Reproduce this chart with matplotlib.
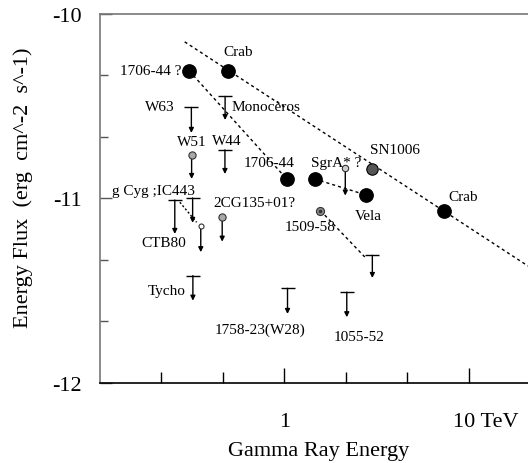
import numpy as np
import matplotlib
matplotlib.use("Agg")
import matplotlib.pyplot as plt
from matplotlib.ticker import FixedLocator, NullFormatter
from matplotlib.transforms import ScaledTranslation

plt.rcParams['font.family'] = ['Liberation Serif', 'DejaVu Serif']

# ---- detections (E in TeV, log10 of energy flux) ----
det_E = [0.305, 0.497, 1.03, 1.46, 2.78, 7.38]
det_F = [-10.309, -10.309, -10.895, -10.895, -10.982, -11.071]

sn1006_E, sn1006_F = 3.0, -10.842
psr1509_E, psr1509_F = 1.57, -11.067

# small circles with an arrow below (value, limit tip)
circ_names = ['W51', '2CG135+01?', 'SgrA* ?', 'CTB80']
circ_E = [0.314, 0.46, 2.14, 0.352]
circ_F = [-10.765, -11.099, -10.838, -11.151]
circ_tip = [-10.895, -11.235, -10.985, -11.292]

# upper limits: bar level and arrow tip
ul_names = ['W63', 'Monoceros', 'W44', 'gCyg', 'IC443', 'Tycho', '1758-23', '1055-52', '1509-58']
ul_E = [0.313, 0.477, 0.476, 0.2545, 0.318, 0.319, 1.04, 2.18, 3.0]
ul_F = [-10.507, -10.447, -10.737, -11.009, -10.998, -11.419, -11.488, -11.509, -11.309]
ul_tip = [-10.645, -10.575, -10.868, -11.193, -11.133, -11.555, -11.627, -11.645, -11.432]

# dashed spectra
crab_line_E = [0.288, 20.96]
crab_line_F = [-10.151, -11.367]
l1706_E = [0.305, 1.03]
l1706_F = [-10.309, -10.895]
vela_line_E = [1.46, 2.78]
vela_line_F = [-10.895, -10.982]
l1509_E = [1.57, 2.73]
l1509_F = [-11.067, -11.318]
cyg_line_E = [0.271, 0.334]
cyg_line_F = [-11.021, -11.130]

# labels: text, E, F, alignment
labels = [
    ('1706-44 ?', 0.278, -10.309, 'right'),
    ('Crab', 0.56, -10.206, 'center'),
    ('W63', 0.211, -10.504, 'center'),
    ('Monocèros', 0.519, -10.504, 'left'),
    ('W51', 0.314, -10.694, 'center'),
    ('W44', 0.486, -10.687, 'center'),
    ('1706-44', 0.829, -10.805, 'center'),
    ('SgrA* ?', 1.915, -10.803, 'center'),
    ('SN1006', 3.96, -10.736, 'center'),
    ('Vela', 2.87, -11.095, 'center'),
    ('Crab', 9.3, -10.992, 'center'),
    ('g Cyg ;IC443', 0.194, -10.958, 'center'),
    ('2CG135+01?', 0.692, -11.020, 'center'),
    ('CTB80', 0.222, -11.239, 'center'),
    ('1509-58', 1.375, -11.155, 'center'),
    ('Tycho', 0.292, -11.502, 'right'),
    ('1758-23(W28)', 0.736, -11.709, 'center'),
    ('1055-52', 2.54, -11.747, 'center'),
]

fig = plt.figure(figsize=(5.28, 4.64), dpi=100)
ax = fig.add_axes([100/528, 80.3/464, 428/528, 368.7/464])
ax.set_xscale('log')
ax.set_xlim(0.1, 20.96)
ax.set_ylim(-12, -10)

dash = (0, (2.2, 2.2))
ax.plot(crab_line_E, crab_line_F, color='black', lw=1.0, linestyle=dash, zorder=2)
ax.plot(l1706_E, l1706_F, color='black', lw=1.0, linestyle=dash, zorder=2)
ax.plot(vela_line_E, vela_line_F, color='black', lw=1.0, linestyle=dash, zorder=2)
ax.plot(l1509_E, l1509_F, color='black', lw=1.0, linestyle=dash, zorder=2)
ax.plot(cyg_line_E, cyg_line_F, color='black', lw=1.0, linestyle=(0, (1.5, 1.5)), zorder=2)

arrow_kw = dict(arrowstyle='-|>', color='black', lw=1.0, mutation_scale=7,
                shrinkA=0, shrinkB=0)

for e, f, t in zip(ul_E, ul_F, ul_tip):
    ax.plot([e], [f], marker='_', ms=10.5, mew=1.0, color='black', zorder=3)
    ax.annotate('', xy=(e, t), xytext=(e, f), arrowprops=arrow_kw, zorder=3)

for e, f, t in zip(circ_E, circ_F, circ_tip):
    ax.annotate('', xy=(e, t), xytext=(e, f), arrowprops=arrow_kw, zorder=3)

circ_face = ['#a8a8a8', '#a8a8a8', '#d0d0d0', 'white']
circ_size = [5.2, 5.2, 4.6, 3.6]
for e, f, c, s in zip(circ_E, circ_F, circ_face, circ_size):
    ax.plot([e], [f], 'o', ms=s, mfc=c, mec='#333333', mew=0.8, zorder=4)

ax.plot(det_E, det_F, 'o', ms=9.6, color='black', zorder=4)
ax.plot([sn1006_E], [sn1006_F], 'o', ms=8.2, mfc='#555555', mec='black', mew=0.8, zorder=4)
ax.plot([psr1509_E], [psr1509_F], 'o', ms=5.8, mfc='#888888', mec='#333333', mew=0.8, zorder=4)
ax.plot([psr1509_E], [psr1509_F], 'o', ms=1.5, color='#333333', zorder=5)

for txt, e, f, ha in labels:
    ax.text(e, f, txt, ha=ha, va='center', fontsize=11, zorder=6)

# axes styling
ax.spines['right'].set_visible(False)
ax.spines['top'].set_color('#777777')
ax.spines['left'].set_color('#777777')
ax.spines['bottom'].set_color('black')
for s in ax.spines.values():
    s.set_linewidth(1.2)

ax.xaxis.set_major_locator(FixedLocator([1, 10]))
ax.xaxis.set_minor_locator(FixedLocator([10 ** (k / 3) for k in (-2, -1, 1, 2, 4)]))
ax.xaxis.set_minor_formatter(NullFormatter())
ax.set_xticklabels(['1', ''])
ax.set_yticks([-12, -11, -10])
ax.set_yticks([-12 + k / 3 for k in (1, 2, 4, 5)], minor=True)
ax.set_yticklabels(['-12', '-11', '-10'])

ax.tick_params(axis='x', which='major', direction='in', length=11, width=1, pad=21, labelsize=16)
ax.tick_params(axis='x', which='minor', direction='in', length=8, width=1)
ax.tick_params(axis='y', which='major', direction='in', length=8.5, width=1, pad=13, labelsize=16,
               color='#555555')
ax.tick_params(axis='y', which='minor', direction='in', length=6, width=1, color='#555555')
ax.tick_params(top=False, right=False, which='both')

# "10 TeV" label, shifted so that "10" sits under the tick
off = ScaledTranslation(-16 / 100, -21 / 72, fig.dpi_scale_trans)
ax.text(10, 0, '10 TeV', transform=ax.get_xaxis_transform() + off, fontsize=16,
        ha='left', va='top')

fig.text(319 / 528, 1 - 452 / 464, 'Gamma Ray Energy', ha='center', va='center', fontsize=16)
fig.text(23 / 528, 1 - 188 / 464, 'Energy Flux  (erg  cm^-2  s^-1)', rotation=90,
         ha='center', va='center', fontsize=16)

fig.savefig('out.png', dpi=100)
